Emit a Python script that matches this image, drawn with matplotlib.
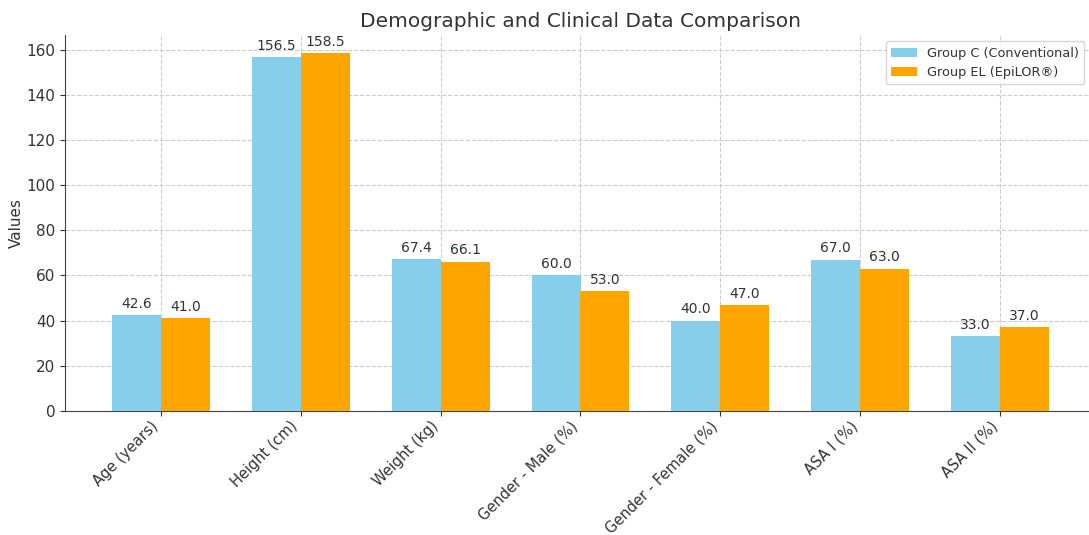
import matplotlib
matplotlib.use("Agg")
import matplotlib.pyplot as plt
import numpy as np

categories = ["Age (years)", "Height (cm)", "Weight (kg)", "Gender - Male (%)",
              "Gender - Female (%)", "ASA I (%)", "ASA II (%)"]
group_c = [42.6, 156.5, 67.4, 60.0, 40.0, 67.0, 33.0]
group_el = [41.0, 158.5, 66.1, 53.0, 47.0, 63.0, 37.0]
series_names = ["Group C (Conventional)", "Group EL (EpiLOR®)"]

tc = "#333333"
plt.rcParams['text.color'] = tc
plt.rcParams['axes.labelcolor'] = tc
plt.rcParams['xtick.color'] = tc
plt.rcParams['ytick.color'] = tc

fig = plt.figure(figsize=(10.89, 5.35), dpi=100)
ax = fig.add_axes([65/1089, 1-411/535, (1096-65)/1089, (411-35)/535])

x = np.arange(len(categories))
w = 0.35
b1 = ax.bar(x - w/2, group_c, w, color="skyblue", label=series_names[0], zorder=3)
b2 = ax.bar(x + w/2, group_el, w, color="orange", label=series_names[1], zorder=3)

for bars in (b1, b2):
    for r in bars:
        h = r.get_height()
        ax.annotate(f"{h:.1f}", (r.get_x() + r.get_width()/2, h), xytext=(0, 3),
                    textcoords="offset points", ha="center", va="bottom", fontsize=10, color=tc)

ax.set_xticks(x)
ax.set_xticklabels(categories, rotation=45, ha="right", fontsize=10.5)
ax.tick_params(axis='y', labelsize=11)
ax.tick_params(axis='x', pad=2)
ax.set_ylabel("Values", fontsize=11, labelpad=2)
ax.set_title("Demographic and Clinical Data Comparison", fontsize=14.5, color=tc)
ax.grid(True, linestyle="--", color="#cccccc", linewidth=0.8, zorder=0)
ax.spines['top'].set_visible(False)
ax.spines['right'].set_visible(False)
ax.spines['left'].set_color("#444444")
ax.spines['bottom'].set_color("#444444")
ax.legend(loc="upper right", fontsize=9.3, bbox_to_anchor=(0.995, 1.0))

fig.savefig("out.png", dpi=100)
